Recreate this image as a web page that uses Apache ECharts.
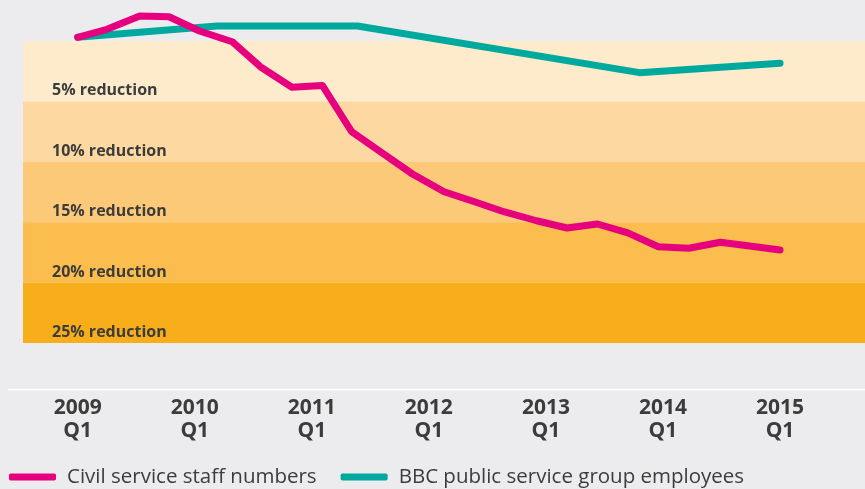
<!DOCTYPE html>
<html>
<head>
<meta charset="utf-8">
<script src="https://cdn.jsdelivr.net/npm/echarts@6/dist/echarts.min.js"></script>
<style>
  html, body { margin: 0; padding: 0; background: #ececee; }
  #chart { width: 865px; height: 489px; }
</style>
</head>
<body>
<div id="chart"></div>
<script>
// x values are fractional years, y values are an index (2009 Q1 = ~100)
const civilYears = [2009.00, 2009.25, 2009.53, 2009.78, 2010.04, 2010.32, 2010.56, 2010.83, 2011.09, 2011.34,
  2011.60, 2011.86, 2012.13, 2012.39, 2012.64, 2012.92, 2013.18, 2013.44, 2013.70, 2013.96,
  2014.22, 2014.49, 2014.74, 2015.00];
const civilValues = [100.31, 100.97, 102.07, 102.01, 100.83, 99.94, 97.87, 96.17, 96.32, 92.49,
  90.73, 88.99, 87.52, 86.69, 85.87, 85.12, 84.52, 84.85, 84.12, 82.97,
  82.84, 83.34, 83.03, 82.70];
const bbcYears = [2009.00, 2010.19, 2011.39, 2013.80, 2015.00];
const bbcValues = [100.31, 101.24, 101.24, 97.38, 98.15];
const yearTicks = [2009, 2010, 2011, 2012, 2013, 2014, 2015];
const reductions = [5, 10, 15, 20, 25];
const bandColors = ['#fdebcb', '#fdd8a0', '#fcc978', '#fbbd4e', '#f8ae1a'];

const textColor = '#3c3c3c';
const font = 'Open Sans';

const chart = echarts.init(document.getElementById('chart'));

const bandData = reductions.map((r, i) => [
  {
    yAxis: 100 - (r - 5),
    itemStyle: { color: bandColors[i] },
    label: { formatter: r + '% reduction' }
  },
  { yAxis: 100 - r }
]);

const option = {
  backgroundColor: '#ececee',
  animation: false,
  grid: {
    left: 23,
    right: 0,
    top: 4.76,
    bottom: 146
  },
  xAxis: {
    type: 'value',
    min: 2008.5327,
    max: 2015.726,
    offset: 46,
    axisLine: { show: false },
    axisTick: { show: false },
    splitLine: { show: false },
    axisLabel: {
      customValues: yearTicks,
      formatter: v => v + '\nQ1',
      margin: 8,
      color: textColor,
      fontFamily: font,
      fontWeight: 'bold',
      fontSize: 21,
      lineHeight: 23
    }
  },
  yAxis: {
    type: 'value',
    min: 75,
    max: 103,
    show: false
  },
  legend: {
    left: 9,
    top: 465,
    padding: 0,
    itemWidth: 47,
    itemHeight: 7,
    itemGap: 24,
    data: [
      { name: 'Civil service staff numbers', icon: 'roundRect' },
      { name: 'BBC public service group employees', icon: 'roundRect' }
    ],
    textStyle: {
      color: textColor,
      fontFamily: font,
      fontSize: 20.5,
      lineHeight: 24,
      padding: [0, 0, 0, 6]
    }
  },
  graphic: [
    {
      type: 'line',
      shape: { x1: 8, y1: 389.5, x2: 865, y2: 389.5 },
      style: { stroke: '#ffffff', lineWidth: 1.5 }
    }
  ],
  series: [
    {
      name: 'bands',
      type: 'line',
      data: [],
      z: 1,
      silent: true,
      markArea: {
        silent: true,
        label: {
          show: true,
          position: 'insideBottomLeft',
          distance: 0,
          offset: [29, -2],
          color: textColor,
          fontFamily: font,
          fontWeight: 'bold',
          fontSize: 16,
          lineHeight: 17
        },
        data: bandData
      }
    },
    {
      name: 'Civil service staff numbers',
      type: 'line',
      z: 4,
      symbol: 'none',
      clip: false,
      data: civilYears.map((x, i) => [x, civilValues[i]]),
      lineStyle: { color: '#e6007e', width: 7, cap: 'round', join: 'round' },
      itemStyle: { color: '#e6007e' }
    },
    {
      name: 'BBC public service group employees',
      type: 'line',
      z: 3,
      symbol: 'none',
      clip: false,
      data: bbcYears.map((x, i) => [x, bbcValues[i]]),
      lineStyle: { color: '#00a99d', width: 7, cap: 'round', join: 'round' },
      itemStyle: { color: '#00a99d' }
    }
  ]
};

chart.setOption(option);
</script>
</body>
</html>
